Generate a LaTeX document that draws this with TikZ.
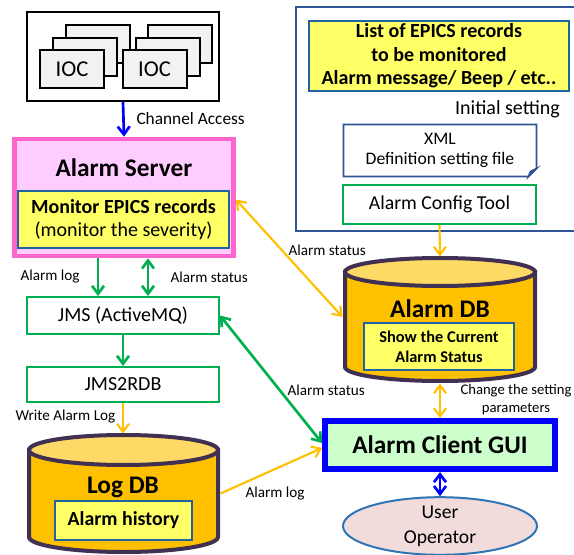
\documentclass[tikz,border=0pt]{standalone}
\usepackage{fontspec}
\setmainfont{Carlito}
\usetikzlibrary{arrows.meta,calc,shapes.geometric}

\tikzset{every picture/.style={line width=0.75pt}}
\tikzset{
	greenbox/.style={draw={rgb, 255:red, 0; green, 176; blue, 80 }, line width=1.5pt, fill=white, inner sep=0pt, font=\fontsize{15}{18}\selectfont},
	yellowbox/.style={draw={rgb, 255:red, 31; green, 100; blue, 160 }, fill={rgb, 255:red, 255; green, 255; blue, 102 }, line width=1.5pt, inner sep=0pt, align=center},
	iocbox/.style={draw=black, fill={rgb, 255:red, 242; green, 242; blue, 242 }, line width=1.5pt, inner sep=0pt, minimum width=48pt, minimum height=28.5pt, font=\fontsize{17}{20}\selectfont},
	canline/.style={draw={rgb, 255:red, 64; green, 49; blue, 82 }, line width=3pt, fill={rgb, 255:red, 255; green, 192; blue, 0 }},
	cantop/.style={canline, fill={rgb, 255:red, 255; green, 217; blue, 102 }},
	docline/.style={draw={rgb, 255:red, 47; green, 85; blue, 151 }, line width=1.2pt},
	lbl/.style={anchor=west, inner sep=0pt, font=\fontsize{11.4}{13.5}\selectfont},
	bigtitle/.style={inner sep=0pt, font=\bfseries\fontsize{19}{22}\selectfont},
	toarrow/.style={-{Straight Barb[length=6pt,width=9pt]}},
	twoarrow/.style={{Straight Barb[length=6pt,width=9pt]}-{Straight Barb[length=6pt,width=9pt]}},
	greenline/.style={color={rgb, 255:red, 0; green, 176; blue, 80 }, line width=2pt},
	orangeline/.style={color={rgb, 255:red, 255; green, 192; blue, 0 }, line width=1.6pt},
	blueline/.style={color={rgb, 255:red, 0; green, 0; blue, 255 }, line width=2pt}
}

\begin{document}
\begin{tikzpicture}[x=0.75pt,y=0.75pt,yscale=-1,xscale=1]
	\useasboundingbox (0,0) rectangle (574,555);
	
	%Shape: Rectangle [id:ioc frame]
	\node [draw=black, line width=1.5pt, minimum width=144pt, minimum height=66.75pt] (iocframe) at (123,56.5) {};
	%Shape: Rectangle [id:ioc stacks]
	\node [iocbox] (iocla) at (97.5,44) {};
	\node [iocbox] (ioclb) at (84.5,57.5) {};
	\node [iocbox] (ioca) at (72,69.5) {IOC};
	\node [iocbox] (iocra) at (180,44) {};
	\node [iocbox] (iocrb) at (167.5,57.5) {};
	\node [iocbox] (iocb) at (154.5,69.5) {IOC};
	
	%Shape: Rectangle [id:alarm server]
	\node [draw={rgb, 255:red, 255; green, 102; blue, 204 }, fill={rgb, 255:red, 255; green, 204; blue, 255 }, line width=3.5pt, minimum width=164.25pt, minimum height=87.75pt] (alarmserver) at (124,197.5) {};
	\node [bigtitle] (servertitle) at (124,168) {Alarm Server};
	\node [yellowbox, minimum width=158.25pt, minimum height=42.75pt, font=\fontsize{15}{17.3}\selectfont] (monitor) at (123.5,219.5) {\textbf{Monitor EPICS records}\\(monitor the severity)};
	
	%Shape: Rectangle [id:jms]
	\node [greenbox, minimum width=144pt, minimum height=27.75pt] (jms) at (123,315.5) {JMS (ActiveMQ)};
	\node [greenbox, minimum width=144pt, minimum height=26.25pt] (jmsrdb) at (123,384.5) {JMS2RDB};
	
	%Shape: Can [id:log db]
	\draw [canline] (29,450) -- (29,537) arc [start angle=180, end angle=0, x radius=94.5, y radius=15] -- (218,450) -- cycle ;
	\draw [cantop] (123.5,450) ellipse [x radius=94.5, y radius=15] ;
	\node [minimum width=144.75pt, minimum height=89.25pt, inner sep=0pt] (logdb) at (123.5,493.5) {};
	\node [bigtitle] (logtitle) at (123,487) {Log DB};
	\node [yellowbox, minimum width=102.75pt, minimum height=29.25pt, font=\bfseries\fontsize{14.9}{17}\selectfont] (history) at (123.5,520.5) {Alarm history};
	
	%Shape: Rectangle [id:setting frame]
	\draw [docline, line width=1pt] (296,7) rectangle (590,231) ;
	\node [yellowbox, minimum width=195pt, minimum height=52.5pt, font=\bfseries\fontsize{15}{17.6}\selectfont] (epicslist) at (439,56) {List of EPICS records\\to be monitored\\Alarm message/ Beep / etc..};
	% Text Node
	\node [inner sep=0pt, font=\fontsize{15}{18}\selectfont] (initset) at (507.5,109) {Initial setting};
	
	%Flowchart: Document [id:xml file]
	\node [inner sep=0pt, minimum width=144pt, minimum height=38.25pt, align=center, font=\fontsize{13.2}{15}\selectfont] (xmlfile) at (440,150.5) {XML\\Definition setting file};
	\draw [docline] (xmlfile.north west) -- (xmlfile.north east) -- ($(xmlfile.south east)+(0,-8)$) -- ($(xmlfile.south east)+(-8,0)$) -- (xmlfile.south west) -- cycle ;
	\draw [docline, fill={rgb, 255:red, 47; green, 85; blue, 151 }] ($(xmlfile.south east)+(0,-8)$) -- ($(xmlfile.south east)+(-6,-5)$) -- ($(xmlfile.south east)+(-8,0)$) -- cycle ;
	
	\node [greenbox, minimum width=144.75pt, minimum height=29.25pt, font=\fontsize{14.8}{18}\selectfont] (configtool) at (439.5,204.5) {Alarm Config Tool};
	
	%Shape: Can [id:alarm db]
	\draw [canline] (345,272) -- (345,367) arc [start angle=180, end angle=0, x radius=95, y radius=14] -- (535,272) -- cycle ;
	\draw [cantop] (440,272) ellipse [x radius=95, y radius=14] ;
	\node [minimum width=145.5pt, minimum height=94.5pt, inner sep=0pt] (alarmdb) at (440,320) {};
	\node [bigtitle] (dbtitle) at (440,309) {Alarm DB};
	\node [yellowbox, minimum width=112.5pt, minimum height=35.25pt, font=\bfseries\fontsize{12.3}{15}\selectfont] (current) at (439,346.5) {Show the Current\\Alarm Status};
	
	%Shape: Rectangle [id:client gui]
	\node [draw={rgb, 255:red, 0; green, 0; blue, 255 }, fill={rgb, 255:red, 204; green, 255; blue, 204 }, line width=4.5pt, minimum width=172.5pt, minimum height=36pt, inner sep=0pt, font=\bfseries\fontsize{19}{22}\selectfont] (gui) at (440,445) {Alarm Client GUI};
	
	%Shape: Ellipse [id:user]
	\node [ellipse, draw={rgb, 255:red, 46; green, 117; blue, 182 }, fill={rgb, 255:red, 242; green, 220; blue, 219 }, line width=1.5pt, minimum width=145.5pt, minimum height=42pt, inner sep=0pt, align=center, font=\fontsize{14.7}{18.75}\selectfont] (user) at (440,526) {User\\Operator};
	
	%Straight Lines [id:channel access]
	\draw [blueline, toarrow] (iocframe.south) -- (alarmserver.north) ;
	%Straight Lines [id:alarm log]
	\draw [greenline, toarrow] ($(alarmserver.south)+(-26,0)$) -- ($(jms.north)+(-25,0)$) ;
	%Straight Lines [id:alarm status]
	\draw [greenline, twoarrow] ($(alarmserver.south)+(24,0)$) -- ($(jms.north)+(25,0)$) ;
	%Straight Lines [id:jms to rdb]
	\draw [greenline, toarrow] (jms.south) -- (jmsrdb.north) ;
	%Straight Lines [id:write log]
	\draw [orangeline, toarrow] (jmsrdb.south) -- ($(logdb.north)+(-0.5,0)$) ;
	%Straight Lines [id:config to db]
	\draw [orangeline, toarrow] (configtool.south) -- (alarmdb.north) ;
	%Straight Lines [id:server to db]
	\draw [orangeline, twoarrow] ($(alarmserver.east)+(0,2)$) -- ($(alarmdb.west)+(0,-3)$) ;
	%Straight Lines [id:db to gui]
	\draw [orangeline, twoarrow] (alarmdb.south) -- (gui.north) ;
	%Straight Lines [id:jms to gui]
	\draw [greenline, twoarrow] (jms.east) -- ($(gui.west)+(0,-2)$) ;
	%Straight Lines [id:log to gui]
	\draw [orangeline, toarrow] (logdb.east) -- ($(gui.west)+(0,3)$) ;
	%Straight Lines [id:gui to user]
	\draw [blueline, twoarrow] (gui.south) -- (user.north) ;
	
	% Text Node
	\node [lbl, font=\fontsize{13}{15}\selectfont] (lblchannel) at (136,119) {Channel Access};
	% Text Node
	\node [lbl] (lbllog) at (20,277) {Alarm log};
	% Text Node
	\node [lbl] (lblstatus) at (170,277) {Alarm status};
	% Text Node
	\node [lbl] (lblwrite) at (15,417) {Write Alarm Log};
	% Text Node
	\node [lbl] (lbldbstatus) at (288,250) {Alarm status};
	% Text Node
	\node [lbl] (lblguistatus) at (287,390) {Alarm status};
	% Text Node
	\node [lbl] (lblguilog) at (245,494) {Alarm log};
	% Text Node
	\node [inner sep=0pt, align=center, font=\fontsize{11}{13.5}\selectfont] (lblchange) at (516,400) {Change the setting\\parameters};
	
\end{tikzpicture}
\end{document}
